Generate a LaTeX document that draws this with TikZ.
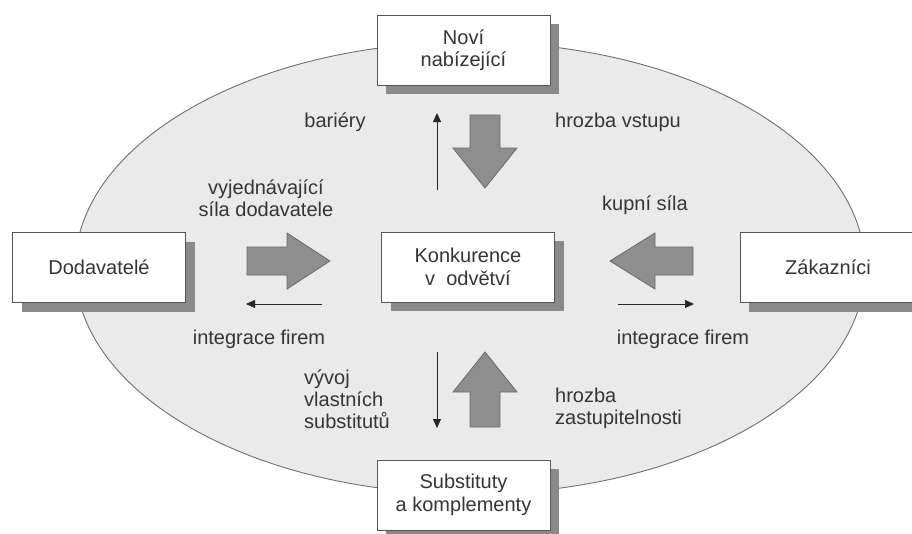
\documentclass[tikz,border=0pt]{standalone}
\usepackage{fontspec}
\setmainfont{Liberation Sans}
\usetikzlibrary{arrows.meta,shadows}
\definecolor{ellfill}{HTML}{EAEAEA}
\definecolor{ellline}{HTML}{707070}
\definecolor{shadowgray}{HTML}{8A8A8A}
\definecolor{arrowfill}{HTML}{8E8E8E}
\definecolor{arrowline}{HTML}{6A6A6A}
\definecolor{txt}{HTML}{353535}
\definecolor{boxline}{HTML}{555555}
\tikzset{
  lbl/.style={text=txt,font=\fontsize{20}{22}\selectfont,inner sep=0pt},
  forcebox/.style={draw=boxline,line width=0.9pt,fill=white,text=txt,
    font=\fontsize{20}{22.5}\selectfont,align=center,inner sep=2pt,
    minimum width=173pt,minimum height=70pt,
    drop shadow={shadow xshift=9pt,shadow yshift=-9pt,fill=shadowgray,opacity=1}},
  bigarrow/.style={fill=arrowfill,draw=arrowline,line width=0.8pt,line join=miter},
  thinarrow/.style={draw=black!85,line width=0.8pt,-{Triangle[length=9pt,width=8pt]}}
}
\begin{document}
\begin{tikzpicture}[x=1pt,y=-1pt]
\useasboundingbox (0,0) rectangle (912,533);
\clip (0,0) rectangle (912,533);
\fill[white] (0,0) rectangle (912,533);
% ellipse
\draw[fill=ellfill,draw=ellline,line width=0.9pt] (470,268) ellipse [x radius=395, y radius=226];

% boxes
\node[forcebox] (new) at (463.5,50) {Noví\\nabízející};
\node[forcebox] (sup) at (99,267.5) {Dodavatelé};
\node[forcebox] (core) at (468,267) {Konkurence\\v\ \ odvětví};
\node[forcebox,minimum width=176pt] (cust) at (828,267.5) {Zákazníci};
\node[forcebox] (subs) at (463.5,495) {Substituty\\a komplementy};

% big arrows
\draw[bigarrow] (470,115)--(500,115)--(500,148)--(517,148)--(485,188)--(453,148)--(470,148)--cycle;
\draw[bigarrow] (470,427)--(500,427)--(500,392)--(517,392)--(485,352)--(453,392)--(470,392)--cycle;
\draw[bigarrow] (247,247)--(287,247)--(287,233)--(330,261)--(287,289)--(287,275)--(247,275)--cycle;
\draw[bigarrow] (693,247)--(655,247)--(655,233)--(610,261)--(655,289)--(655,275)--(693,275)--cycle;

% thin arrows
\coordinate (t1) at (437,190); \coordinate (t2) at (437,113);
\coordinate (b1) at (437,352); \coordinate (b2) at (437,428);
\coordinate (l1) at (322,304); \coordinate (l2) at (246,304);
\coordinate (r1) at (618,304); \coordinate (r2) at (694,304);
\draw[thinarrow] (t1) -- (t2);
\draw[thinarrow] (b1) -- (b2);
\draw[thinarrow] (l1) -- (l2);
\draw[thinarrow] (r1) -- (r2);

% labels
\node[lbl] (bar) at (335,122) {bariéry};
\node[lbl,anchor=west] (hv) at (555,122) {hrozba vstupu};
\node[lbl,align=center] (vsd) at (266,198) {vyjednávající\\síla dodavatele};
\node[lbl] (ks) at (645,205) {kupní síla};
\node[lbl] (if1) at (259,339) {integrace firem};
\node[lbl] (if2) at (683,339) {integrace firem};
\node[lbl,anchor=west,align=left] (vvs) at (304,399) {vývoj\\vlastních\\substitutů};
\node[lbl,anchor=west,align=left] (hz) at (555,408) {hrozba\\zastupitelnosti};
\end{tikzpicture}
\end{document}
